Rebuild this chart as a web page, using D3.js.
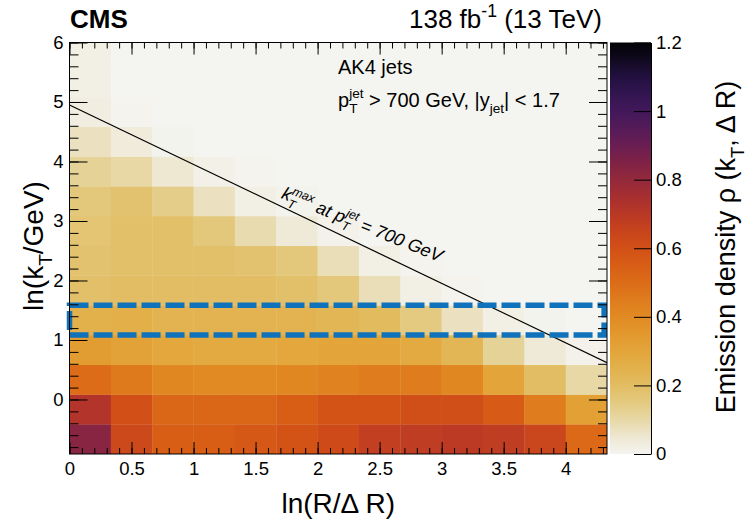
<!DOCTYPE html>
<html><head><meta charset="utf-8">
<script src="https://cdn.jsdelivr.net/npm/d3@7"></script>
<style>
body{margin:0;background:#fff}
svg{display:block}
text{font-family:"Liberation Sans",Arial,Helvetica,sans-serif;fill:#000;white-space:pre}
</style>
</head><body>
<svg id="c" width="748" height="520"></svg>
<script>
// ---------------- data ----------------
const lnRBinEdges  = [0, 0.333, 0.667, 1, 1.333, 1.667, 2, 2.333, 2.667, 3, 3.333, 3.667, 4, 4.333];
const lnKtBinEdges = [-0.916, -0.416, 0.084, 0.584, 1.084, 1.584, 2.084, 2.584, 3.084, 3.584, 4.084, 4.584, 5.084, 5.584, 6.084];
// emission density per ln(kT) row (bottom -> top), 13 ln(R/dR) bins each
const rho_row00 = [0.83, 0.63, 0.55, 0.55, 0.57, 0.59, 0.62, 0.67, 0.68, 0.69, 0.68, 0.64, 0.51];
const rho_row01 = [0.72, 0.60, 0.52, 0.52, 0.52, 0.55, 0.59, 0.59, 0.61, 0.61, 0.56, 0.45, 0.32];
const rho_row02 = [0.50, 0.46, 0.41, 0.40, 0.40, 0.41, 0.43, 0.45, 0.45, 0.41, 0.30, 0.20, 0.10];
const rho_row03 = [0.33, 0.31, 0.29, 0.28, 0.28, 0.29, 0.30, 0.30, 0.28, 0.23, 0.12, 0.04, 0.01];
const rho_row04 = [0.25, 0.26, 0.24, 0.24, 0.24, 0.24, 0.23, 0.21, 0.15, 0.07, 0.02, 0.005, 0];
const rho_row05 = [0.19, 0.20, 0.20, 0.20, 0.20, 0.19, 0.16, 0.08, 0.02, 0.004, 0, 0, 0];
const rho_row06 = [0.18, 0.19, 0.19, 0.19, 0.18, 0.16, 0.08, 0.02, 0.003, 0, 0, 0, 0];
const rho_row07 = [0.17, 0.19, 0.19, 0.16, 0.09, 0.04, 0.01, 0, 0, 0, 0, 0, 0];
const rho_row08 = [0.16, 0.18, 0.14, 0.07, 0.02, 0.005, 0, 0, 0, 0, 0, 0, 0];
const rho_row09 = [0.12, 0.10, 0.05, 0.015, 0.003, 0, 0, 0, 0, 0, 0, 0, 0];
const rho_row10 = [0.07, 0.035, 0.005, 0, 0, 0, 0, 0, 0, 0, 0, 0, 0];
const rho_row11 = [0.025, 0.003, 0, 0, 0, 0, 0, 0, 0, 0, 0, 0, 0];
const rho_row12 = [0.02, 0, 0, 0, 0, 0, 0, 0, 0, 0, 0, 0, 0];
const rho_row13 = [0.02, 0, 0, 0, 0, 0, 0, 0, 0, 0, 0, 0, 0];

const xTickValues = [0, 0.5, 1, 1.5, 2, 2.5, 3, 3.5, 4];
const yTickValues = [0, 1, 2, 3, 4, 5, 6];
const zTickValues = [0, 0.2, 0.4, 0.6, 0.8, 1, 1.2];
const kTmaxLine = [[0, 4.95], [4.333, 0.62]];
const boxLnR  = [0, 4.31];
const boxLnKt = [1.084, 1.584];

// palette (value -> colour)
const paletteStops  = [0, 0.05, 0.10, 0.15, 0.20, 0.25, 0.30, 0.35, 0.40, 0.45, 0.50, 0.55, 0.60, 0.65, 0.70, 0.75, 0.80, 0.85, 0.90, 0.95, 1.00, 1.05, 1.10, 1.15, 1.20];
const paletteColors = ["#f4f4f0","#eee7d2","#e7d8a6","#e3ca80","#e2bd63","#e2b14b","#e3a53a","#e2982d","#e18a23","#df7c1d","#dc6c18","#d85e16","#d25017","#c8441d","#b93826","#a72f30","#93293b","#7f2246","#6a1e52","#551b59","#42185a","#321550","#221040","#110a20","#030205"];

const rhoRows = [rho_row00, rho_row01, rho_row02, rho_row03, rho_row04, rho_row05, rho_row06,
                 rho_row07, rho_row08, rho_row09, rho_row10, rho_row11, rho_row12, rho_row13];

// ---------------- layout ----------------
const X0 = 69.5, X1 = 607, Y0 = 42.5, Y1 = 454;
const CB0 = 610, CB1 = 651;
const svg = d3.select('#c');
const x = d3.scaleLinear().domain([0, 4.333]).range([X0, X1]);
const y = d3.scaleLinear().domain([-0.916, 6]).range([Y1, Y0]);
const z = d3.scaleLinear().domain([0, 1.2]).range([Y1, Y0]);
const color = d3.scaleLinear().domain(paletteStops).range(paletteColors).clamp(true);

// rich text helper: parts = [{t, sup, sub}]
function rich(g, parts, size, style) {
  let cx = 0;
  const mk = (txt, xx, yy, fs) => {
    const el = g.append('text').attr('x', xx).attr('y', yy).attr('font-size', fs).text(txt);
    if (style) el.attr('font-style', style);
    return el.node().getComputedTextLength();
  };
  for (const p of parts) {
    if (p.t) cx += mk(p.t, cx, 0, size);
    let w = 0;
    if (p.sup) w = Math.max(w, mk(p.sup, cx, -0.42 * size, size * 0.68));
    if (p.sub) w = Math.max(w, mk(p.sub, cx + (p.subdx || 0), 0.32 * size, size * 0.68));
    cx += w;
  }
  return cx;
}

// clip
svg.append('defs').append('clipPath').attr('id', 'plotclip')
  .append('rect').attr('x', X0).attr('y', Y0).attr('width', X1 - X0).attr('height', Y1 - Y0);

// background (zero level)
svg.append('rect').attr('x', X0).attr('y', Y0).attr('width', X1 - X0).attr('height', Y1 - Y0)
  .attr('fill', color(0));

// cells
const cells = [];
rhoRows.forEach((row, r) => row.forEach((v, c) => cells.push({r, c, v})));
svg.append('g').attr('clip-path', 'url(#plotclip)')
  .selectAll('rect').data(cells).join('rect')
  .attr('x', d => x(lnRBinEdges[d.c]))
  .attr('width', d => x(lnRBinEdges[d.c + 1]) - x(lnRBinEdges[d.c]) + 0.3)
  .attr('y', d => y(lnKtBinEdges[d.r + 1]))
  .attr('height', d => y(lnKtBinEdges[d.r]) - y(lnKtBinEdges[d.r + 1]) + 0.3)
  .attr('fill', d => color(d.v));

// kT max line
svg.append('line').attr('clip-path', 'url(#plotclip)')
  .attr('x1', x(kTmaxLine[0][0])).attr('y1', y(kTmaxLine[0][1]))
  .attr('x2', x(kTmaxLine[1][0])).attr('y2', y(kTmaxLine[1][1]))
  .attr('stroke', '#000').attr('stroke-width', 1.2);

// annotation along line
{
  const lx = 1.70, ly = kTmaxLine[0][1] + (kTmaxLine[1][1] - kTmaxLine[0][1]) * (lx - kTmaxLine[0][0]) / (kTmaxLine[1][0] - kTmaxLine[0][0]);
  const g = svg.append('g').attr('transform', `translate(${x(lx)},${y(ly) - 8}) rotate(22)`);
  rich(g, [{t: 'k', sup: 'max', sub: 'T'}, {t: ' at p', sup: 'jet', sub: 'T'}, {t: ' = 700 GeV'}], 18, 'italic');
}

// highlight box
svg.append('rect')
  .attr('x', x(boxLnR[0])).attr('y', y(boxLnKt[1]))
  .attr('width', x(boxLnR[1]) - x(boxLnR[0])).attr('height', y(boxLnKt[0]) - y(boxLnKt[1]))
  .attr('fill', 'none').attr('stroke', '#1072ba').attr('stroke-width', 5.5)
  .attr('stroke-dasharray', '19,5');

// axes
function styleAxis(g, fs) {
  g.select('.domain').remove();
  g.selectAll('line').attr('stroke', '#000');
  g.selectAll('text').attr('font-size', fs).attr('font-family', null);
}
const xMinor = d3.range(0, 4.34, 0.1);
const yMinor = d3.range(-0.8, 6.01, 0.2);
svg.append('g').attr('transform', `translate(0,${Y1})`)
  .call(d3.axisBottom(x).tickValues(xTickValues).tickSize(-12).tickPadding(8).tickFormat(d3.format('')))
  .call(g => styleAxis(g, 18.5));
svg.append('g').attr('transform', `translate(0,${Y1})`)
  .call(d3.axisBottom(x).tickValues(xMinor).tickSize(-6).tickFormat(''))
  .call(g => styleAxis(g, 10));
svg.append('g').attr('transform', `translate(0,${Y0})`)
  .call(d3.axisTop(x).tickValues(xTickValues).tickSize(-12).tickFormat(''))
  .call(g => styleAxis(g, 10));
svg.append('g').attr('transform', `translate(0,${Y0})`)
  .call(d3.axisTop(x).tickValues(xMinor).tickSize(-6).tickFormat(''))
  .call(g => styleAxis(g, 10));
svg.append('g').attr('transform', `translate(${X0},0)`)
  .call(d3.axisLeft(y).tickValues(yTickValues).tickSize(-18).tickPadding(6).tickFormat(d3.format('')))
  .call(g => styleAxis(g, 18.5));
svg.append('g').attr('transform', `translate(${X0},0)`)
  .call(d3.axisLeft(y).tickValues(yMinor).tickSize(-9).tickFormat(''))
  .call(g => styleAxis(g, 10));
svg.append('g').attr('transform', `translate(${X1},0)`)
  .call(d3.axisRight(y).tickValues(yTickValues).tickSize(-18).tickFormat(''))
  .call(g => styleAxis(g, 10));
svg.append('g').attr('transform', `translate(${X1},0)`)
  .call(d3.axisRight(y).tickValues(yMinor).tickSize(-9).tickFormat(''))
  .call(g => styleAxis(g, 10));

// frame
svg.append('rect').attr('x', X0).attr('y', Y0).attr('width', X1 - X0).attr('height', Y1 - Y0)
  .attr('fill', 'none').attr('stroke', '#000').attr('stroke-width', 1);

// colour bar
const grad = svg.select('defs').append('linearGradient').attr('id', 'cbgrad')
  .attr('x1', 0).attr('y1', 1).attr('x2', 0).attr('y2', 0);
paletteStops.forEach((s, i) => grad.append('stop').attr('offset', s / 1.2).attr('stop-color', paletteColors[i]));
svg.append('rect').attr('x', CB0).attr('y', Y0).attr('width', CB1 - CB0).attr('height', Y1 - Y0)
  .attr('fill', 'url(#cbgrad)');
svg.append('g').attr('transform', `translate(${CB1},0)`)
  .call(d3.axisRight(z).tickValues(zTickValues).tickSize(-17).tickSizeOuter(0).tickPadding(5).tickFormat(d3.format('')))
  .call(g => {
    g.select('.domain').attr('stroke', '#000');
    g.selectAll('line').attr('stroke', '#000');
    g.selectAll('text').attr('font-size', 18.5).attr('font-family', null);
  });

// header
svg.append('text').attr('x', 70).attr('y', 28).attr('font-size', 26).attr('font-weight', 'bold').text('CMS');
{
  const g = svg.append('g');
  const w = rich(g, [{t: '138 fb', sup: '-1'}, {t: ' (13 TeV)'}], 26);
  g.attr('transform', `translate(${602 - w},28)`);
}

// legend
svg.append('text').attr('x', 338).attr('y', 73.5).attr('font-size', 20).text('AK4 jets');
{
  const g = svg.append('g').attr('transform', 'translate(338,106.5)');
  rich(g, [{t: 'p', sup: 'jet', sub: 'T'}, {t: ' > 700 GeV, |y', sub: 'jet'}, {t: '| < 1.7'}], 20);
}

// axis titles
{
  const g = svg.append('g');
  const w = rich(g, [{t: 'ln(R/Δ R)'}], 28);
  g.attr('transform', `translate(${(X0 + X1) / 2 - w / 2},513)`);
}
{
  const outer = svg.append('g').attr('transform', `translate(43,246) rotate(-90)`);
  const g = outer.append('g');
  const w = rich(g, [{t: 'ln(k', sub: 'T'}, {t: '/GeV)'}], 28);
  g.attr('transform', `translate(${-w / 2},0)`);
}
{
  const outer = svg.append('g').attr('transform', `translate(735,247) rotate(-90)`);
  const g = outer.append('g');
  const w = rich(g, [{t: 'Emission density ρ (k', sub: 'T'}, {t: ', Δ R)'}], 27);
  g.attr('transform', `translate(${-w / 2},0)`);
}
</script>
</body></html>
